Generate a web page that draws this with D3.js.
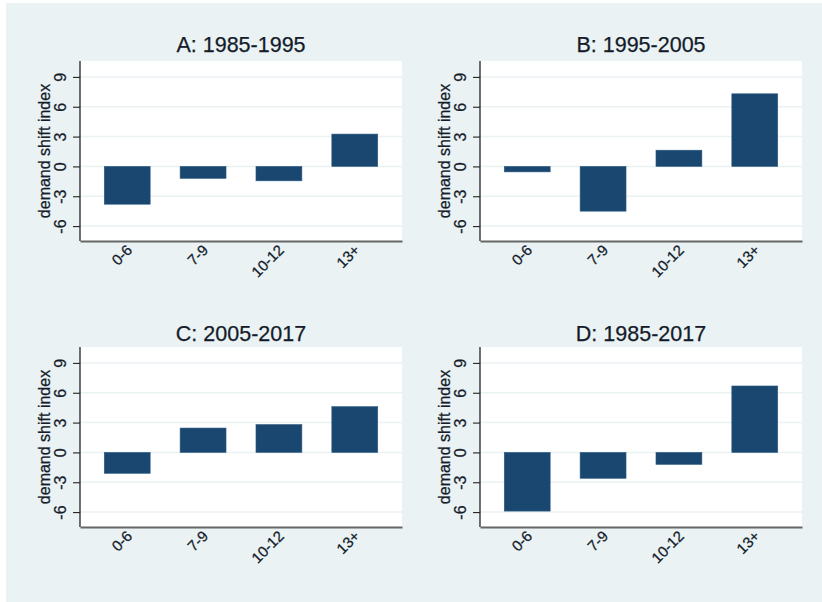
<!DOCTYPE html>
<html>
<head>
<meta charset="utf-8">
<script src="https://cdn.jsdelivr.net/npm/d3@7/dist/d3.min.js"></script>
<style>
  html, body { margin: 0; padding: 0; background: #ffffff; }
  svg { display: block; font-family: "Liberation Sans", Arial, sans-serif; }
  text { stroke: #141c2b; stroke-width: 0.25px; }
</style>
</head>
<body>
<svg id="chart" width="822" height="602"></svg>
<script>
// Education groups (years of schooling)
const categories = ["0-6", "7-9", "10-12", "13+"];

// Panel titles
const panelTitles = ["A: 1985-1995", "B: 1995-2005", "C: 2005-2017", "D: 1985-2017"];

// Demand shift index by education group, one array per period
const valuesA = [-3.8, -1.2, -1.45, 3.25];
const valuesB = [-0.55, -4.5, 1.63, 7.3];
const valuesC = [-2.1, 2.45, 2.8, 4.6];
const valuesD = [-5.9, -2.6, -1.2, 6.68];

// Y axis ticks
const yTicks = [-6, -3, 0, 3, 6, 9];
const yLabel = "demand shift index";

const panelValues = [valuesA, valuesB, valuesC, valuesD];

const svg = d3.select("#chart");
const W = 822, H = 602;

// graph region background
svg.append("rect")
  .attr("x", 6).attr("y", 3)
  .attr("width", W - 6).attr("height", H - 3)
  .attr("fill", "#eaf2f3");

// plot region geometry
const colLeft = [80, 480];
const rowTop = [61, 347];
const plotW = 322, plotH = 180;
const titleBaseline = [52, 340.5];

const barColor = "#1a476f";
const gridColor = "#eaf2f3";
const textColor = "#141c2b";

const x = d3.scaleBand()
  .domain(categories)
  .range([0, plotW])
  .paddingInner(0.395)
  .paddingOuter(0.32);

const y = d3.scaleLinear()
  .domain([-7.5, 10.6])
  .range([plotH, 0]);

panelValues.forEach((vals, i) => {
  const col = i % 2, row = Math.floor(i / 2);
  const g = svg.append("g")
    .attr("transform", `translate(${colLeft[col]},${rowTop[row]})`);

  // plot background
  g.append("rect")
    .attr("x", 0).attr("y", 0)
    .attr("width", plotW).attr("height", plotH)
    .attr("fill", "#ffffff");

  // horizontal gridlines
  g.selectAll("line.grid")
    .data(yTicks)
    .enter().append("line")
    .attr("class", "grid")
    .attr("x1", 0).attr("x2", plotW)
    .attr("y1", d => y(d)).attr("y2", d => y(d))
    .attr("stroke", gridColor)
    .attr("stroke-width", 1.5);

  // bars
  g.selectAll("rect.bar")
    .data(vals)
    .enter().append("rect")
    .attr("class", "bar")
    .attr("x", (d, j) => x(categories[j]))
    .attr("width", x.bandwidth())
    .attr("y", d => y(Math.max(0, d)))
    .attr("height", d => Math.abs(y(d) - y(0)))
    .attr("fill", barColor)
    .attr("stroke", "#2b5a84")
    .attr("stroke-width", 0.6);

  // left axis
  const yAxis = d3.axisLeft(y)
    .tickValues(yTicks)
    .tickSize(7)
    .tickFormat(d => String(d));
  const ya = g.append("g").call(yAxis);
  ya.select(".domain")
    .attr("d", `M0,0V${plotH}`)
    .attr("stroke", "#222")
    .attr("stroke-width", 1.3);
  ya.selectAll(".tick line").attr("stroke", "#222").attr("stroke-width", 1.1);
  ya.selectAll(".tick text")
    .attr("x", null).attr("dy", null)
    .attr("transform", "translate(-14,0) rotate(-90)")
    .attr("text-anchor", "middle")
    .attr("fill", textColor)
    .style("font-size", "16px");

  // bottom axis (no tick marks)
  const xAxis = d3.axisBottom(x).tickSize(0).tickSizeOuter(0);
  const xa = g.append("g")
    .attr("transform", `translate(0,${plotH})`)
    .call(xAxis);
  xa.select(".domain")
    .attr("stroke", "#666")
    .attr("stroke-width", 2);
  xa.selectAll(".tick text")
    .attr("y", null).attr("dy", null)
    .attr("transform", "translate(6,10) rotate(-45)")
    .attr("text-anchor", "end")
    .attr("fill", textColor)
    .style("font-size", "15px");

  // y axis title
  g.append("text")
    .attr("transform", `translate(-30,${plotH / 2}) rotate(-90)`)
    .attr("text-anchor", "middle")
    .attr("fill", textColor)
    .style("font-size", "16px")
    .text(yLabel);

  // panel title
  svg.append("text")
    .attr("x", colLeft[col] + plotW / 2)
    .attr("y", titleBaseline[row])
    .attr("text-anchor", "middle")
    .attr("fill", textColor)
    .style("font-size", "21.5px")
    .text(panelTitles[i]);
});
</script>
</body>
</html>
